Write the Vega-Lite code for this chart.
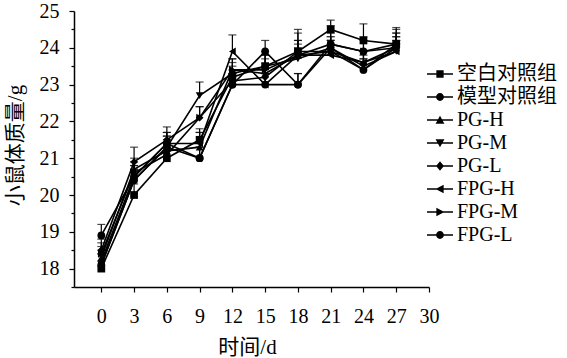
{
  "$schema": "https://vega.github.io/schema/vega-lite/v6.json",
  "width": 355,
  "height": 276,
  "autosize": {"type": "none"},
  "padding": {"left": 74, "top": 11, "right": 138, "bottom": 71},
  "background": "white",
  "config": {
    "view": {"stroke": null},
    "font": "Liberation Serif, Noto Sans CJK SC",
    "axis": {
      "domainColor": "black", "domainWidth": 1.5, "tickColor": "black", "tickWidth": 1.2,
      "labelColor": "black", "titleColor": "black", "labelFont": "Liberation Serif", "labelFontSize": 20,
      "titleFont": "Liberation Serif, Noto Sans CJK SC", "titleFontSize": 21, "titleFontWeight": "normal", "grid": false
    }
  },
  "datasets": {
    "weights": [
    {"t":0,"g":"空白对照组","y":18.0,"hi":18.2},{"t":3,"g":"空白对照组","y":20.0,"hi":20.3},{"t":6,"g":"空白对照组","y":21.0,"hi":21.3},{"t":9,"g":"空白对照组","y":21.5,"hi":21.8},{"t":12,"g":"空白对照组","y":23.2,"hi":23.5},{"t":15,"g":"空白对照组","y":23.5,"hi":23.9},{"t":18,"g":"空白对照组","y":23.9,"hi":24.5},{"t":21,"g":"空白对照组","y":24.5,"hi":24.75},{"t":24,"g":"空白对照组","y":24.2,"hi":24.65},{"t":27,"g":"空白对照组","y":24.1,"hi":24.5},
    {"t":0,"g":"模型对照组","y":18.9,"hi":19.2},{"t":3,"g":"模型对照组","y":20.5,"hi":20.8},{"t":6,"g":"模型对照组","y":21.4,"hi":21.7},{"t":9,"g":"模型对照组","y":21.0,"hi":21.3},{"t":12,"g":"模型对照组","y":23.0,"hi":23.3},{"t":15,"g":"模型对照组","y":23.9,"hi":24.2},{"t":18,"g":"模型对照组","y":23.0,"hi":23.3},{"t":21,"g":"模型对照组","y":24.1,"hi":24.4},{"t":24,"g":"模型对照组","y":23.9,"hi":24.2},{"t":27,"g":"模型对照组","y":24.1,"hi":24.55},
    {"t":0,"g":"PG-H","y":18.3,"hi":18.6},{"t":3,"g":"PG-H","y":20.7,"hi":21.0},{"t":6,"g":"PG-H","y":21.2,"hi":21.5},{"t":9,"g":"PG-H","y":21.3,"hi":21.7},{"t":12,"g":"PG-H","y":23.4,"hi":23.7},{"t":15,"g":"PG-H","y":23.3,"hi":23.7},{"t":18,"g":"PG-H","y":23.8,"hi":24.1},{"t":21,"g":"PG-H","y":23.9,"hi":24.2},{"t":24,"g":"PG-H","y":23.6,"hi":23.9},{"t":27,"g":"PG-H","y":24.0,"hi":24.3},
    {"t":0,"g":"PG-M","y":18.1,"hi":18.4},{"t":3,"g":"PG-M","y":20.4,"hi":20.7},{"t":6,"g":"PG-M","y":21.3,"hi":21.6},{"t":9,"g":"PG-M","y":22.7,"hi":23.07},{"t":12,"g":"PG-M","y":23.3,"hi":23.6},{"t":15,"g":"PG-M","y":23.5,"hi":23.8},{"t":18,"g":"PG-M","y":23.7,"hi":24.0},{"t":21,"g":"PG-M","y":24.0,"hi":24.3},{"t":24,"g":"PG-M","y":23.5,"hi":23.8},{"t":27,"g":"PG-M","y":23.9,"hi":24.2},
    {"t":0,"g":"PG-L","y":18.5,"hi":18.8},{"t":3,"g":"PG-L","y":20.9,"hi":21.3},{"t":6,"g":"PG-L","y":21.5,"hi":21.85},{"t":9,"g":"PG-L","y":22.1,"hi":22.4},{"t":12,"g":"PG-L","y":23.1,"hi":23.4},{"t":15,"g":"PG-L","y":23.2,"hi":23.5},{"t":18,"g":"PG-L","y":23.9,"hi":24.2},{"t":21,"g":"PG-L","y":23.9,"hi":24.2},{"t":24,"g":"PG-L","y":23.4,"hi":23.7},{"t":27,"g":"PG-L","y":24.0,"hi":24.3},
    {"t":0,"g":"FPG-H","y":18.2,"hi":18.5},{"t":3,"g":"FPG-H","y":20.5,"hi":20.8},{"t":6,"g":"FPG-H","y":21.4,"hi":21.7},{"t":9,"g":"FPG-H","y":21.4,"hi":21.7},{"t":12,"g":"FPG-H","y":23.9,"hi":24.35},{"t":15,"g":"FPG-H","y":23.0,"hi":23.3},{"t":18,"g":"FPG-H","y":23.8,"hi":24.2},{"t":21,"g":"FPG-H","y":23.8,"hi":24.1},{"t":24,"g":"FPG-H","y":23.6,"hi":23.9},{"t":27,"g":"FPG-H","y":23.9,"hi":24.2},
    {"t":0,"g":"FPG-M","y":18.4,"hi":18.7},{"t":3,"g":"FPG-M","y":20.6,"hi":20.9},{"t":6,"g":"FPG-M","y":21.1,"hi":21.4},{"t":9,"g":"FPG-M","y":22.1,"hi":22.4},{"t":12,"g":"FPG-M","y":23.4,"hi":23.7},{"t":15,"g":"FPG-M","y":23.4,"hi":23.8},{"t":18,"g":"FPG-M","y":23.8,"hi":24.4},{"t":21,"g":"FPG-M","y":24.1,"hi":24.6},{"t":24,"g":"FPG-M","y":23.9,"hi":24.3},{"t":27,"g":"FPG-M","y":24.0,"hi":24.4},
    {"t":0,"g":"FPG-L","y":18.1,"hi":18.4},{"t":3,"g":"FPG-L","y":20.4,"hi":20.7},{"t":6,"g":"FPG-L","y":21.3,"hi":21.6},{"t":9,"g":"FPG-L","y":21.0,"hi":21.3},{"t":12,"g":"FPG-L","y":23.0,"hi":23.3},{"t":15,"g":"FPG-L","y":23.0,"hi":23.3},{"t":18,"g":"FPG-L","y":23.0,"hi":23.3},{"t":21,"g":"FPG-L","y":24.0,"hi":24.3},{"t":24,"g":"FPG-L","y":23.4,"hi":23.7},{"t":27,"g":"FPG-L","y":24.1,"hi":24.4}
    ],
    "groups": [{"grp":"空白对照组"},{"grp":"模型对照组"},{"grp":"PG-H"},{"grp":"PG-M"},{"grp":"PG-L"},{"grp":"FPG-H"},{"grp":"FPG-M"},{"grp":"FPG-L"}]
  },
  "encoding": {
    "x": {"field": "t", "type": "quantitative", "scale": {"domain": [-2.5, 30], "nice": false, "zero": false},
      "axis": {"values": [0,3,6,9,12,15,18,21,24,27,30], "title": "时间/d", "tickSize": 5, "labelPadding": 14, "labelFlush": false, "labelOverlap": false,
        "titleX": 173, "titleY": 60, "titleAlign": "center", "titleBaseline": "middle"}},
    "y": {"field": "y", "type": "quantitative", "scale": {"domain": [17.5, 25], "nice": false, "zero": false},
      "axis": {"values": [17.5,18,18.5,19,19.5,20,20.5,21,21.5,22,22.5,23,23.5,24,24.5,25], "title": "小鼠体质量/g",
        "labelExpr": "datum.value % 1 ? '' : '' + datum.value", "labelPadding": 10, "labelFlush": false, "labelOverlap": false,
        "tickSize": {"condition": {"test": "datum.value % 1 !== 0", "value": 3}, "value": 5},
        "titleX": -59, "titleY": 134, "titleAlign": "center", "titleBaseline": "middle", "titleAngle": -90}}
  },
  "layer": [
    {"data": {"name": "weights"},
     "layer": [
      {"mark": {"type": "rule", "color": "black", "strokeWidth": 1.2}, "encoding": {"y2": {"field": "hi"}}},
      {"mark": {"type": "tick", "orient": "horizontal", "color": "black", "size": 8, "thickness": 1.2}, "encoding": {"y": {"field": "hi", "type": "quantitative"}}},
      {"mark": {"type": "line", "color": "black", "strokeWidth": 1.6}, "encoding": {"detail": {"field": "g"}}},
      {"mark": {"type": "point", "filled": true, "color": "black", "opacity": 1, "size": 60},
        "encoding": {"shape": {"field": "g", "type": "nominal", "legend": null,
          "scale": {"domain": ["空白对照组","模型对照组","PG-H","PG-M","PG-L","FPG-H","FPG-M","FPG-L"],
            "range": ["square","circle","triangle-up","triangle-down","diamond","triangle-left","triangle-right","circle"]}}}}
     ]
    },
    {"data": {"name": "groups"},
      "mark": {"type": "point", "filled": true, "color": "black", "opacity": 1},
      "encoding": {
        "shape": {"field": "grp", "type": "nominal",
        "scale": {"domain": ["空白对照组","模型对照组","PG-H","PG-M","PG-L","FPG-H","FPG-M","FPG-L"],
          "range": [
            "M-1,-0.05H1V0.05H-1ZM-0.28,-0.28H0.28V0.28H-0.28Z",
            "M-1,-0.05H1V0.05H-1ZM0.3,0A0.3,0.3 0 1,1 -0.3,0A0.3,0.3 0 1,1 0.3,0Z",
            "M-1,-0.05H1V0.05H-1ZM0,-0.32L0.34,0.28H-0.34Z",
            "M-1,-0.05H1V0.05H-1ZM0,0.32L-0.34,-0.28H0.34Z",
            "M-1,-0.05H1V0.05H-1ZM0,-0.36L0.3,0L0,0.36L-0.3,0Z",
            "M-1,-0.05H1V0.05H-1ZM-0.34,0L0.28,-0.32V0.32Z",
            "M-1,-0.05H1V0.05H-1ZM0.34,0L-0.28,0.32V-0.32Z",
            "M-1,-0.05H1V0.05H-1ZM0.3,0A0.3,0.3 0 1,1 -0.3,0A0.3,0.3 0 1,1 0.3,0Z"]},
        "legend": {"title": null, "orient": "none", "legendX": 353, "legendY": 50, "symbolSize": 676,
          "symbolFillColor": "black", "symbolStrokeWidth": 0, "symbolOpacity": 1, "rowPadding": 0, "labelOffset": 4,
          "labelFont": "Liberation Serif, Noto Sans CJK SC", "labelFontSize": 20, "labelColor": "black", "labelLimit": 200}}}
    }
  ],
  "resolve": {"scale": {"shape": "independent"}, "legend": {"shape": "independent"}}
}
